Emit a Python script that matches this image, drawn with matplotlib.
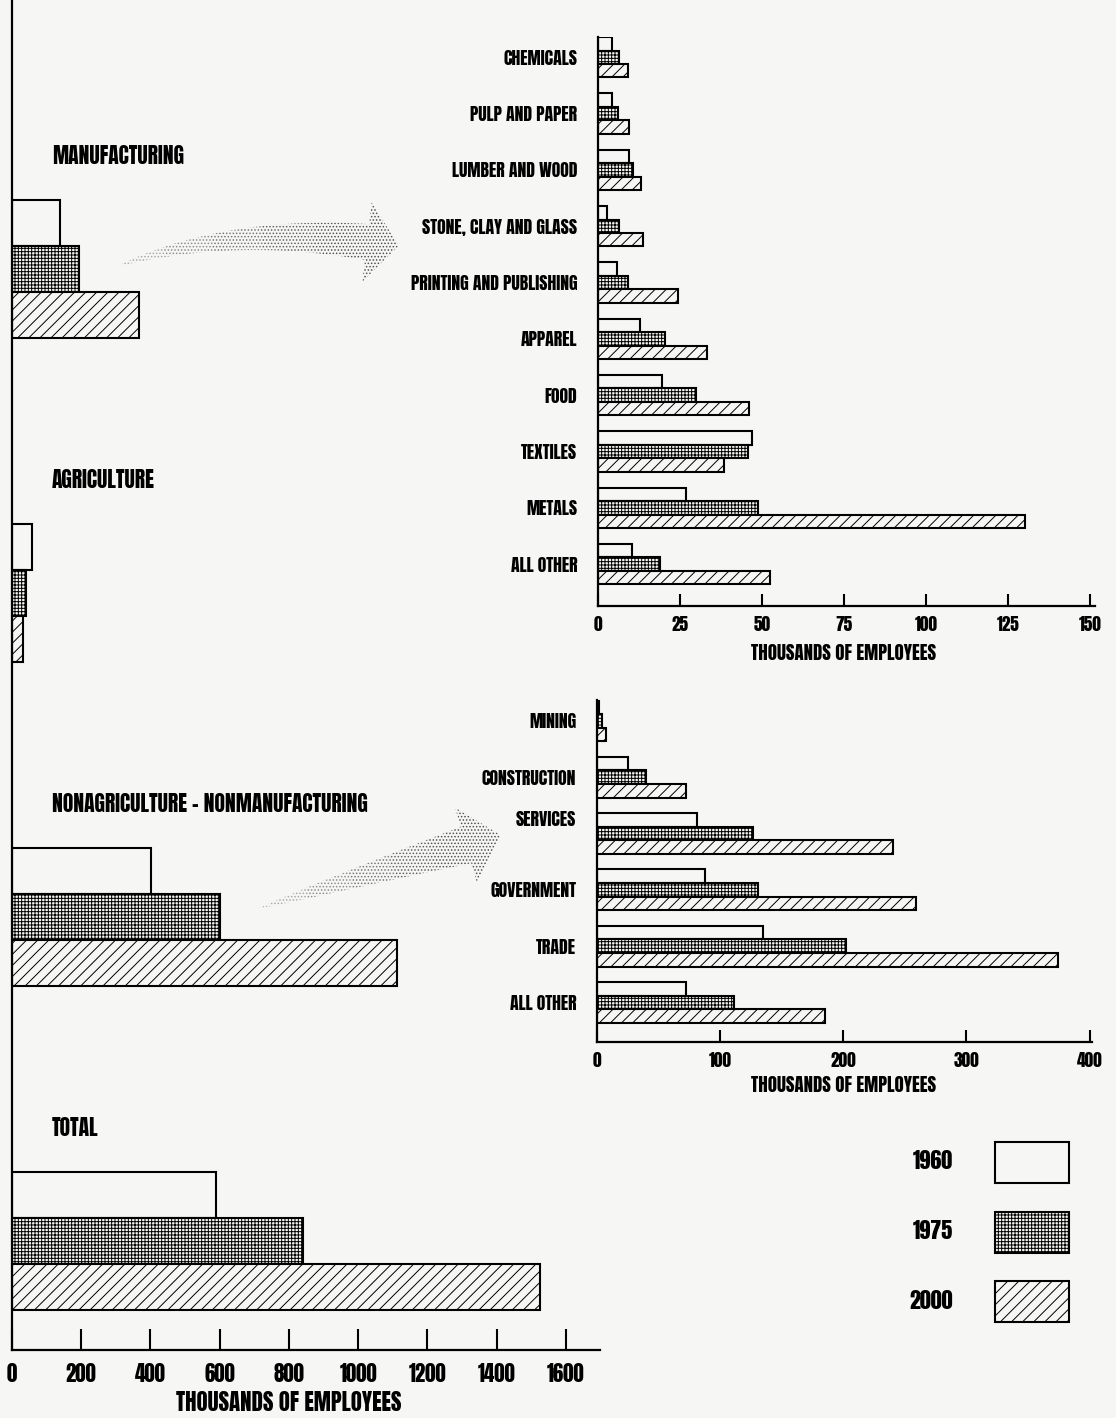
import numpy as np
import matplotlib.pyplot as plt
from matplotlib.patches import Polygon, Patch
from matplotlib import transforms

W, H = 1116, 1418
BG = '#f6f6f4'

plt.rcParams['font.family'] = ['Anton', 'DejaVu Sans']
plt.rcParams['hatch.linewidth'] = 0.7

years = ['1960', '1975', '2000']

# major sectors, thousands of employees
sectors = ['MANUFACTURING', 'AGRICULTURE', 'NONAGRICULTURE - NONMANUFACTURING', 'TOTAL']
sector_1960 = [138, 57, 403, 590]
sector_1975 = [195, 41, 601, 842]
sector_2000 = [366, 31, 1113, 1527]

# manufacturing breakdown
mfg_names = ['CHEMICALS', 'PULP AND PAPER', 'LUMBER AND WOOD', 'STONE, CLAY AND GLASS',
             'PRINTING AND PUBLISHING', 'APPAREL', 'FOOD', 'TEXTILES', 'METALS', 'ALL OTHER']
mfg_1960 = [4.2, 4.3, 9.6, 2.8, 5.7, 12.7, 19.4, 46.8, 26.7, 10.4]
mfg_1975 = [6.3, 6.2, 10.6, 6.3, 9.2, 20.5, 29.9, 45.7, 48.7, 18.9]
mfg_2000 = [9.2, 9.5, 13.1, 13.8, 24.3, 33.1, 46.1, 38.5, 130.3, 52.4]

# nonagriculture - nonmanufacturing breakdown
non_names = ['MINING', 'CONSTRUCTION', 'SERVICES', 'GOVERNMENT', 'TRADE', 'ALL OTHER']
non_1960 = [2, 25, 81, 88, 135, 72]
non_1975 = [4, 40, 127, 131, 202, 111]
non_2000 = [7, 72, 240, 259, 374, 185]

styles = [dict(facecolor=BG, hatch=None),
          dict(facecolor=BG, hatch='+++++'),
          dict(facecolor=BG, hatch='///')]

fig = plt.figure(figsize=(W / 100, H / 100), dpi=100, facecolor=BG)


def px_axes(x0, y0, x1, y1):
    ax = fig.add_axes([x0 / W, 1 - y1 / H, (x1 - x0) / W, (y1 - y0) / H])
    ax.set_facecolor('none')
    for s in ['top', 'right']:
        ax.spines[s].set_visible(False)
    for s in ['left', 'bottom']:
        ax.spines[s].set_linewidth(1.6)
    return ax


def grouped(ax, series, bar_h):
    pos = np.arange(len(series[0]))
    for k, (vals, st) in enumerate(zip(series, styles)):
        ax.barh(pos + (k - 1) * bar_h, vals, height=bar_h, edgecolor='black',
                linewidth=1.5, **st)
    return pos


# ---- left panel
axL = px_axes(12, 0, 600, 1350)
grouped(axL, [sector_1960, sector_1975, sector_2000], 0.142)
axL.set_ylim(3.336, -0.83)
axL.set_xlim(0, 1699)
axL.set_yticks([])
axL.set_xticks(range(0, 1601, 200))
axL.tick_params(axis='x', direction='in', length=15, width=1.5, labelsize=15, pad=9)
for i, name in enumerate(sectors):
    axL.text(0.068, i - 0.35, name, transform=transforms.blended_transform_factory(axL.transAxes, axL.transData),
             fontsize=15.5, va='center', ha='left')
axL.text(800, -0.039, 'THOUSANDS OF EMPLOYEES', fontsize=16.5, ha='center', va='center',
         transform=transforms.blended_transform_factory(axL.transData, axL.transAxes))

# ---- right top panel: manufacturing
axM = px_axes(598, 37, 1095, 606)
grouped(axM, [mfg_1960, mfg_1975, mfg_2000], 0.239)
axM.set_ylim(9.743, -0.36)
axM.set_xlim(0, 151.5)
axM.set_yticks(np.arange(len(mfg_names)))
axM.set_yticklabels(mfg_names, fontsize=12.8)
axM.tick_params(axis='y', length=0, pad=15)
axM.set_xticks(range(0, 151, 25))
axM.tick_params(axis='x', direction='in', length=9, width=1.5, labelsize=12.5, pad=7)
axM.text(75, -0.082, 'THOUSANDS OF EMPLOYEES', fontsize=13.5, ha='center', va='center',
         transform=transforms.blended_transform_factory(axM.transData, axM.transAxes))

# ---- right middle panel: nonagriculture - nonmanufacturing
axN = px_axes(597, 700, 1092, 1042)
grouped(axN, [non_1960, non_1975, non_2000], 0.242)
axN.set_ylim(5.699, -0.37)
axN.set_xlim(0, 402)
axN.set_yticks(np.arange(len(non_names)))
axN.set_yticklabels(non_names, fontsize=12.8)
axN.tick_params(axis='y', length=0, pad=15)
for lbl in axN.get_yticklabels():
    if lbl.get_text() == 'SERVICES':
        lbl.set_transform(lbl.get_transform() + transforms.ScaledTranslation(0, 0.15, fig.dpi_scale_trans))
axN.set_xticks(range(0, 401, 100))
axN.tick_params(axis='x', direction='in', length=9, width=1.5, labelsize=12.5, pad=7)
axN.text(200, -0.125, 'THOUSANDS OF EMPLOYEES', fontsize=13.5, ha='center', va='center',
         transform=transforms.blended_transform_factory(axN.transData, axN.transAxes))

# ---- legend
handles = [Patch(edgecolor='black', linewidth=1.5, **st) for st in styles]
fig.legend(handles, years, loc='upper left', bbox_to_anchor=(898 / W, 1 - 1131 / H),
           markerfirst=False, frameon=False, borderpad=0, handlelength=3.35, handleheight=2.47,
           labelspacing=1.28, handletextpad=1.9, prop=dict(size=16))


# ---- curved stippled arrows
def arrow(p0, p1, p2, shaft_w, head_w, head_len, shades):
    p0, p1, p2 = map(np.array, (p0, p1, p2))
    t = np.linspace(0, 1, 61)[:, None]
    pts = (1 - t) ** 2 * p0 + 2 * (1 - t) * t * p1 + t ** 2 * p2
    tan = 2 * (1 - t) * (p1 - p0) + 2 * t * (p2 - p1)
    tan = tan / np.linalg.norm(tan, axis=1, keepdims=True)
    nrm = np.column_stack([-tan[:, 1], tan[:, 0]])
    hw = shaft_w / 2 * t[:, 0] ** 0.8
    upper = pts + nrm * hw[:, None]
    lower = pts - nrm * hw[:, None]
    n = len(shades)
    cuts = np.linspace(0, 60, n + 1).astype(int)
    for j in range(n):
        a, b = cuts[j], cuts[j + 1]
        poly = np.vstack([upper[a:b + 1], lower[a:b + 1][::-1]])
        if j == n - 1:
            u, v = tan[-1], nrm[-1]
            head = np.array([p2 + v * head_w, p2 + u * head_len, p2 - v * head_w])
            poly = np.vstack([upper[a:b + 1], head, lower[a:b + 1][::-1]])
        frac = np.column_stack([poly[:, 0] / W, 1 - poly[:, 1] / H])
        fig.add_artist(Polygon(frac, closed=True, transform=fig.transFigure, facecolor='none',
                               edgecolor=shades[j], linewidth=0, hatch='.....'))


shades = ['#a8a8a8', '#8c8c8c', '#747474', '#606060', '#505050']
arrow((118, 266), (230, 226), (367, 242), 36, 40, 32, shades)
arrow((260, 908), (380, 870), (466, 845), 38, 39, 36, shades)

fig.savefig('out.png', dpi=100, facecolor=BG)
